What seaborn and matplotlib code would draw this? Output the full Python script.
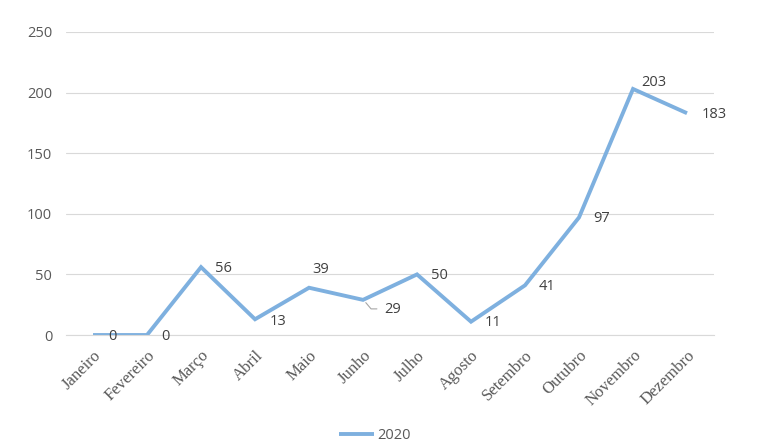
import pandas as pd
import matplotlib.pyplot as plt
from matplotlib.lines import Line2D
import seaborn as sns

meses = ['Janeiro', 'Fevereiro', 'Março', 'Abril', 'Maio', 'Junho', 'Julho',
         'Agosto', 'Setembro', 'Outubro', 'Novembro', 'Dezembro']
valores_2020 = [0, 0, 56, 13, 39, 29, 50, 11, 41, 97, 203, 183]
yticks = [0, 50, 100, 150, 200, 250]

df = pd.DataFrame({'mes': meses, 'valor': valores_2020})
df['pos'] = range(len(meses))

sns.set_style('white')
plt.rcParams['font.family'] = ['Open Sans', 'DejaVu Sans']

fig = plt.figure(figsize=(7.74, 4.48), dpi=100)
ax = fig.add_axes([0.0853, 0.2522, 0.8372, 0.6764])

sns.lineplot(data=df, x='pos', y='valor', ax=ax, color='#7EB0DF',
             linewidth=2.8, label='2020', solid_joinstyle='miter',
             solid_capstyle='butt')

ax.set_xlim(-0.5, len(meses) - 0.5)
ax.set_ylim(0, 250)
ax.set_yticks(yticks)
ax.set_xticks(df['pos'])
ax.set_xticklabels(meses, rotation=45, ha='right', rotation_mode='anchor',
                   family='Liberation Serif', fontsize=12, color='#595959')
ax.tick_params(axis='y', labelsize=10.5, labelcolor='#595959', length=0, pad=10)
ax.tick_params(axis='x', length=0, pad=9)
ax.grid(axis='y', color='#D9D9D9', linewidth=0.8)
ax.set_axisbelow(True)
for s in ['top', 'right', 'left']:
    ax.spines[s].set_visible(False)
ax.spines['bottom'].set_color('#D9D9D9')
ax.set_xlabel('')
ax.set_ylabel('')

# data labels (centre offsets in points, tuned by eye)
offsets = [(13.7, -1.4), (13, -1), (16.5, -0.7), (16.5, -1.4), (8.6, 13),
           (21, -7), (16, -0.7), (16, -0.7), (16, -0.7), (16.5, -0.7),
           (15, 4.3), (19.5, -0.7)]
for i, (v, off) in enumerate(zip(valores_2020, offsets)):
    ax.annotate(str(v), (i, v), xytext=off, textcoords='offset points',
                ha='center', va='center', fontsize=10.5, color='#404040')

# leader line for the Junho label (after limits are fixed)
lead = [(2, -2), (5.8, -6.5), (10, -6.5)]
base = ax.transData.transform((5, valores_2020[5]))
xs = [base[0] + dx * fig.dpi / 72 for dx, dy in lead]
ys = [base[1] + dy * fig.dpi / 72 for dx, dy in lead]
fig.add_artist(Line2D(xs, ys, transform=None, color='#A6A6A6', lw=0.8))

leg = ax.legend(loc='lower center', bbox_to_anchor=(0.477, -0.40),
                frameon=False, fontsize=10.5, handlelength=2.4, handletextpad=0.2)
for t in leg.get_texts():
    t.set_color('#595959')

fig.savefig('out.png', dpi=100)
